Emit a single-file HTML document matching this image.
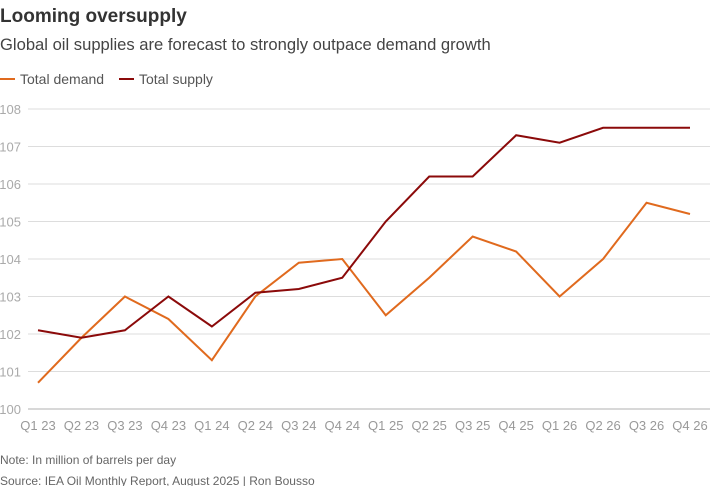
<!DOCTYPE html>
<html><head><meta charset="utf-8"><style>
body{margin:0;background:#fff;font-family:"Liberation Sans",sans-serif;}
svg text{font-family:"Liberation Sans",sans-serif;}
</style></head><body>
<svg id="c" width="710" height="486">
<text x="0" y="22" font-size="19" font-weight="bold" fill="#333">Looming oversupply</text>
<text x="0" y="50" font-size="16.6" fill="#444">Global oil supplies are forecast to strongly outpace demand growth</text>
<g>
<line x1="0" y1="79" x2="15" y2="79" stroke="#e06a1e" stroke-width="2"/>
<text x="20" y="84" font-size="14" fill="#555">Total demand</text>
<line x1="119" y1="79" x2="134" y2="79" stroke="#8b0a0a" stroke-width="2"/>
<text x="139" y="84" font-size="14" fill="#555">Total supply</text>
</g>
<g id="grid"></g><g id="xl"></g><g id="lines"></g>
<text x="0" y="464" font-size="12" fill="#666">Note: In million of barrels per day</text>
<text x="0" y="485" font-size="12" fill="#666">Source: IEA Oil Monthly Report, August 2025 | Ron Bousso</text>
</svg>
<script>
const categories=["Q1 23","Q2 23","Q3 23","Q4 23","Q1 24","Q2 24","Q3 24","Q4 24","Q1 25","Q2 25","Q3 25","Q4 25","Q1 26","Q2 26","Q3 26","Q4 26"];
const demand=[100.7,101.9,103.0,102.4,101.3,103.0,103.9,104.0,102.5,103.5,104.6,104.2,103.0,104.0,105.5,105.2];
const supply=[102.1,101.9,102.1,103.0,102.2,103.1,103.2,103.5,105.0,106.2,106.2,107.3,107.1,107.5,107.5,107.5];
const yTicks=[100,101,102,103,104,105,106,107,108];
const NS="http://www.w3.org/2000/svg";
function y(v){return 409-(v-100)*(300/8);}
function x(i){return 38+i*(652/15);}
const g=document.getElementById('grid');
yTicks.forEach(t=>{
 const l=document.createElementNS(NS,'line');
 l.setAttribute('x1',28);l.setAttribute('x2',710);l.setAttribute('y1',y(t));l.setAttribute('y2',y(t));
 l.setAttribute('stroke',t===100?'#ccc':'#ddd');l.setAttribute('stroke-width',t===100?1.5:1);
 
 
 g.appendChild(l);
 const tx=document.createElementNS(NS,'text');
 tx.setAttribute('x',21);tx.setAttribute('y',y(t)+5);tx.setAttribute('text-anchor','end');
 tx.setAttribute('font-size','13');tx.setAttribute('fill','#aaa');tx.textContent=t;
 
 
 g.appendChild(tx);
});
const xl=document.getElementById('xl');
categories.forEach((c,i)=>{
 const tx=document.createElementNS(NS,'text');
 tx.setAttribute('x',Math.min(x(i),690));tx.setAttribute('y',430);tx.setAttribute('text-anchor','middle');
 tx.setAttribute('font-size','13');tx.setAttribute('fill','#999');tx.textContent=c;
 
 
 xl.appendChild(tx);
});
const lg=document.getElementById('lines');
function line(vals,color,name){
 const p=document.createElementNS(NS,'polyline');
 p.setAttribute('points',vals.map((v,i)=>x(i)+','+y(v)).join(' '));
 p.setAttribute('fill','none');p.setAttribute('stroke',color);p.setAttribute('stroke-width','2');
 
 
 lg.appendChild(p);
}
line(demand,'#e06a1e','demand-line');
line(supply,'#8b0a0a','supply-line');
</script>
</body></html>
